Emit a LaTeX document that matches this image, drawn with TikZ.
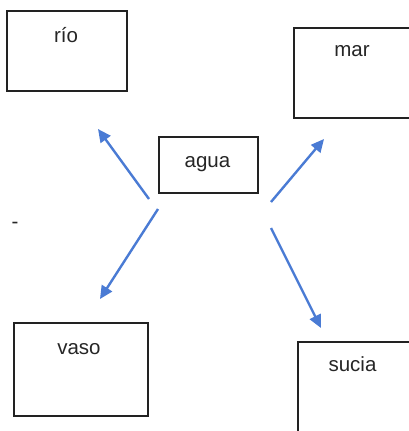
\documentclass[tikz,border=0pt]{standalone}
\usepackage{fontspec}
\setmainfont{Liberation Sans}
\usetikzlibrary{arrows.meta}
\definecolor{arrowblue}{HTML}{4A7BD4}
\definecolor{boxline}{HTML}{222222}
\begin{document}
\begin{tikzpicture}[x=1pt,y=-1pt,
  box/.style={draw=boxline, line width=2pt, fill=none, inner sep=0pt, anchor=north west},
  word/.style={font=\fontsize{20.5}{24}\selectfont, text=black!85, inner sep=0pt, anchor=base},
  link/.style={draw=arrowblue, line width=2.4pt, -{Triangle[length=13pt,width=12pt]}}]
\useasboundingbox (0,0) rectangle (408,431);
\fill[white] (0,0) rectangle (408,431);
% boxes
\node[box, minimum width=120pt, minimum height=80pt] (rio) at (6,10) {};
\node[box, minimum width=120pt, minimum height=90pt] (mar) at (293,27) {};
\node[box, minimum width=99pt, minimum height=56pt] (agua) at (158,136) {};
\node[box, minimum width=134pt, minimum height=93pt] (vaso) at (13,322) {};
\node[box, minimum width=120pt, minimum height=100pt] (sucia) at (297,341) {};
% texts
\node[word] (rioT) at (66,42) {río};
\node[word] (marT) at (352,56) {mar};
\node[word] (aguaT) at (207.5,167) {agua};
\node[word] (vasoT) at (79,354) {vaso};
\node[word] (suciaT) at (352.5,371) {sucia};
\node[word] (dash) at (15,228) {-};
% arrow endpoints
\coordinate (a1s) at (149,199);
\coordinate (a1e) at (98,129);
\coordinate (a2s) at (271,202);
\coordinate (a2e) at (324,139);
\coordinate (a3s) at (158,209);
\coordinate (a3e) at (100,299);
\coordinate (a4s) at (271,228);
\coordinate (a4e) at (321,328);
\draw[link] (a1s) -- (a1e);
\draw[link] (a2s) -- (a2e);
\draw[link] (a3s) -- (a3e);
\draw[link] (a4s) -- (a4e);
\end{tikzpicture}
\end{document}
